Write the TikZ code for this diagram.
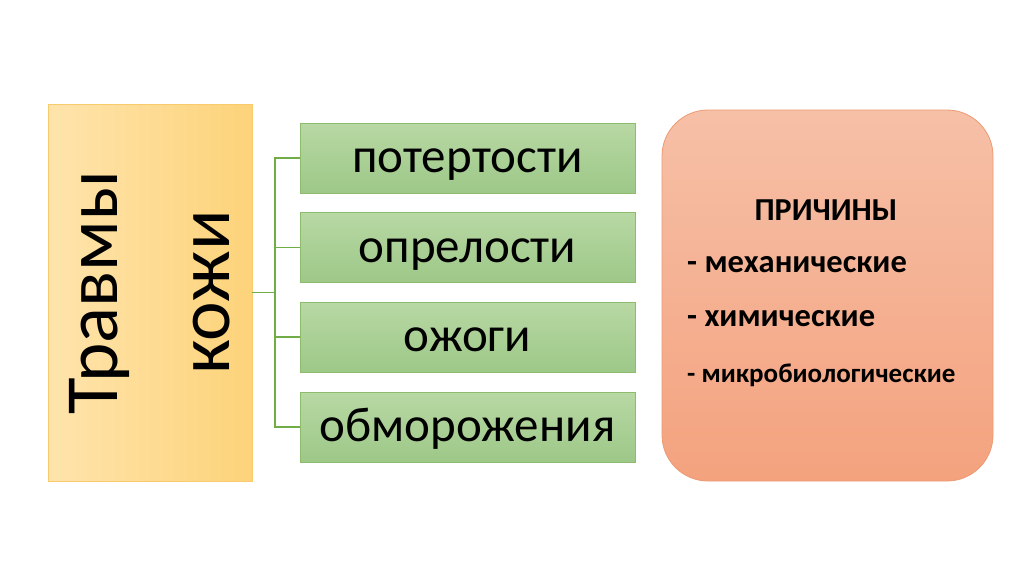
\documentclass[tikz,border=0pt]{standalone}
\usepackage{fontspec}
\setmainfont{Carlito}
\usetikzlibrary{positioning}
\definecolor{yelL}{HTML}{FEE4AC}
\definecolor{yelR}{HTML}{FDD37A}
\definecolor{yelB}{HTML}{F9CB6C}
\definecolor{grT}{HTML}{B8D8A4}
\definecolor{grB}{HTML}{9DC888}
\definecolor{grD}{HTML}{70AD47}
\definecolor{orT}{HTML}{F6C0A7}
\definecolor{orB}{HTML}{F4A27E}
\definecolor{orD}{HTML}{EC9A74}
\tikzset{
  yelbox/.style={draw=yelB, line width=0.8pt, left color=yelL, right color=yelR,
    minimum width=204pt, minimum height=377pt, inner sep=0pt},
  grbox/.style={draw=grD!80, line width=0.8pt, top color=grT, bottom color=grB,
    minimum width=335pt, minimum height=70pt, inner sep=0pt,
    text height=29pt, text depth=0pt,
    font=\fontsize{49}{56}\selectfont},
  orbox/.style={draw=orD, line width=0.8pt, top color=orT, bottom color=orB,
    rounded corners=46pt, minimum width=331pt, minimum height=371pt, inner sep=0pt},
  conn/.style={draw=grD, line width=1.2pt},
  ptxt/.style={inner sep=0pt, anchor=base west},
}
\begin{document}
\begin{tikzpicture}[x=1pt,y=-1pt]
\useasboundingbox (0,0) rectangle (1024,574);
\fill[white] (0,0) rectangle (1024,574);
\node[yelbox] (main) at (150,292.5) {};
\node[rotate=90, inner sep=0pt, align=center, font=\fontsize{75}{112}\selectfont] (maintxt) at (main.center) {Травмы\\кожи};
\node[grbox] (b1) at (467.5,158) {потертости};
\node[grbox] (b2) at (467.5,247.5) {опрелости};
\node[grbox] (b3) at (467.5,337) {ожоги};
\node[grbox] (b4) at (467.5,427) {обморожения};
\coordinate (j) at (275,292.5);
\draw[conn] (main.east) -- (j);
\draw[conn] (b1.west) -| (j) |- (b4.west);
\draw[conn] (b2.west) -- (b2.west -| j);
\draw[conn] (b3.west) -- (b3.west -| j);
\node[orbox] (causes) at (827.5,295.5) {};
\node[font=\bfseries\fontsize{32}{36}\selectfont, inner sep=0pt] (t0) at (826,210) {ПРИЧИНЫ};
\node[ptxt, font=\bfseries\fontsize{32.5}{36}\selectfont] (t1) at (687,272) {- механические};
\node[ptxt, font=\bfseries\fontsize{32.5}{36}\selectfont] (t2) at (687,326) {- химические};
\node[ptxt, font=\bfseries\fontsize{27}{32}\selectfont] (t3) at (687,382) {- микробиологические};
\end{tikzpicture}
\end{document}
